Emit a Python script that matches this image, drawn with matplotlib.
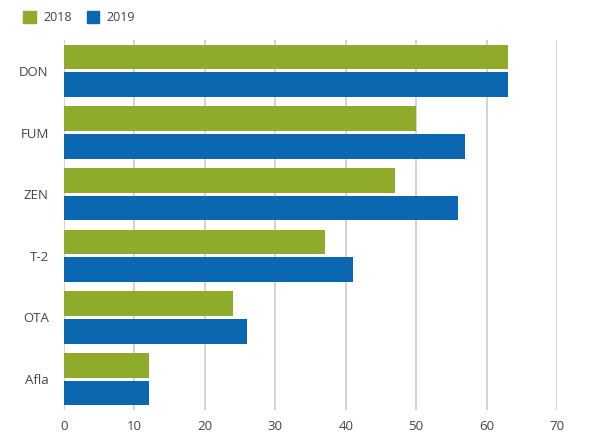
import matplotlib
matplotlib.use("Agg")
import matplotlib.pyplot as plt
import numpy as np
from matplotlib.patches import Patch

plt.rcParams['font.family'] = ['Open Sans', 'DejaVu Sans']

categories = ["DON", "FUM", "ZEN", "T-2", "OTA", "Afla"]
values_2018 = [63, 50, 47, 37, 24, 12]
values_2019 = [63, 57, 56, 41, 26, 12]
series_names = ["2018", "2019"]
colors = ["#8eab2b", "#0a67b0"]
xticks = [0, 10, 20, 30, 40, 50, 60, 70]

fig = plt.figure(figsize=(5.91, 4.41), dpi=100)
ax = fig.add_axes([64 / 591, 1 - 410 / 441, (557 - 64) / 591, 370 / 441])

y = np.arange(len(categories))
h = 0.40
off = 0.225
ax.barh(y - off, values_2018, height=h, color=colors[0], zorder=3)
ax.barh(y + off, values_2019, height=h, color=colors[1], zorder=3)

ax.set_xlim(0, 70)
ax.set_ylim(5.5, -0.5)
ax.set_xticks(xticks)
ax.set_yticks(y)
ax.set_yticklabels(categories)
ax.grid(axis="x", color="#cccccc", linewidth=1.2, zorder=0)
for s in ax.spines.values():
    s.set_visible(False)
ax.tick_params(length=0, labelsize=9.5, colors="#444444")
ax.tick_params(axis="x", pad=7)
ax.tick_params(axis="y", pad=11)

handles = [Patch(color=c) for c in colors]
fig.legend(handles, series_names, loc="upper left", bbox_to_anchor=(0.02, 1.0),
           ncol=2, frameon=False, fontsize=9, handlelength=1.0, handleheight=1.0,
           handletextpad=0.6, columnspacing=1.2, labelcolor="#444444")

fig.savefig("out.png", dpi=100)
